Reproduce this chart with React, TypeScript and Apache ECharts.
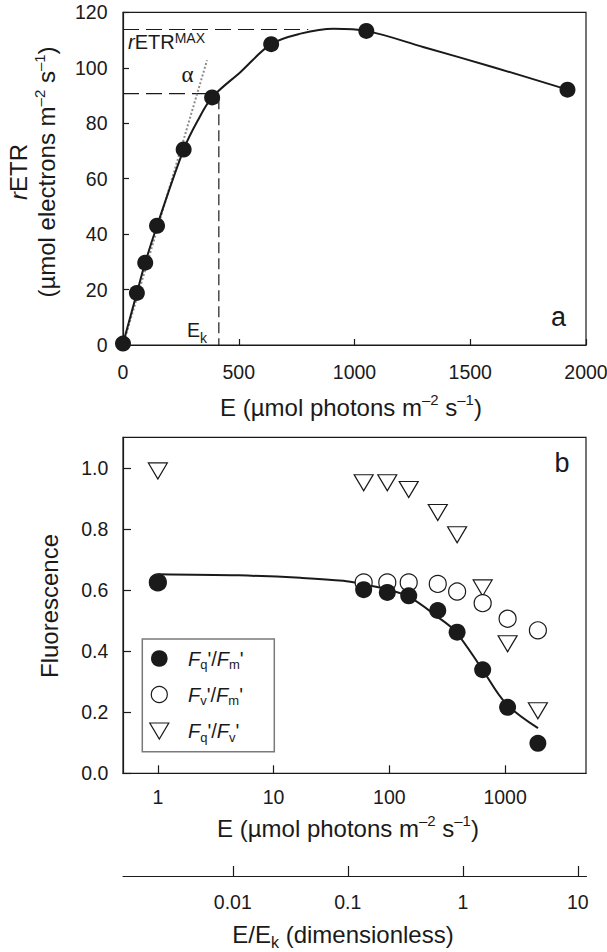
import React, { useEffect, useRef } from 'react';
import * as echarts from 'echarts';

// ---------- Panel a : rETR vs E ----------
const aE = [0, 60, 96, 147, 262, 385, 640, 1051, 1920];
const aETR = [0.5, 18.8, 29.7, 43.0, 70.5, 89.3, 108.5, 113.3, 92.1];
const aCurveE = [0, 60, 96, 147, 262, 320, 385, 508, 640, 767, 910, 1051, 1300, 1600, 1920];
const aCurveETR = [0.5, 18.8, 29.7, 43.0, 70.5, 80.5, 89.3, 98.5, 108.5, 112.3, 114.1, 113.3, 107.4, 100.2, 92.1];
const RETR_MAX = 113.8;
const RETR_MAX_END = 800;
const EK = 414;
const ETR_AT_EK = 90.7;
const EK_LINE_TOP = 89;
const ALPHA_START = [0, 0];
const ALPHA_END = [363, 102.7];
const aXRange = [0, 2000, 500];
const aYRange = [0, 120, 20];

// ---------- Panel b : fluorescence vs E (log) ----------
const bE = [1, 60, 96, 147, 262, 385, 640, 1051, 1920];
const fqfm = [0.625, 0.601, 0.592, 0.581, 0.533, 0.462, 0.339, 0.216, 0.098];
const fvfm = [0.625, 0.625, 0.625, 0.625, 0.62, 0.595, 0.557, 0.506, 0.468];
const fqfv = [0.99, 0.951, 0.951, 0.929, 0.854, 0.781, 0.607, 0.424, 0.205];
const bCurveE = [1, 5, 17, 40, 62, 98, 146, 259, 373, 626, 1014, 1925];
const bCurveV = [0.652, 0.648, 0.64, 0.63, 0.617, 0.601, 0.579, 0.513, 0.464, 0.344, 0.229, 0.148];
const bXRange = [0.5, 5000];
const bXTicks = [1, 10, 100, 1000];
const bYRange = [0, 1.1, 0.2];
const eekRange = [0.00111, 11.9];
const eekTicks = [0.01, 0.1, 1, 10];

const FONT = "'Liberation Sans', Arial, Helvetica, sans-serif";
const SERIF = "'Liberation Serif', 'DejaVu Serif', serif";
const INK = '#1a1a1a';

const zip = (xs: number[], ys: number[]) => xs.map((x, i) => [x, ys[i]]);

function richSet(base: number, supPad: number, subPad: number) {
  const small = Math.round(base * 0.64);
  return {
    n: { fontSize: base, fontFamily: FONT, fill: INK, color: INK },
    i: { fontSize: base, fontFamily: FONT, fontStyle: 'italic', fill: INK, color: INK },
    sup: { fontSize: small, fontFamily: FONT, fill: INK, color: INK, padding: [0, 0, supPad, 0] },
    sub: { fontSize: small, fontFamily: FONT, fill: INK, color: INK, padding: [subPad, 0, 0, 0] },
  };
}

function txt(x: number, y: number, text: string, rich: any, opts: any = {}) {
  return {
    type: 'text',
    x,
    y,
    rotation: opts.rotation || 0,
    silent: true,
    z: 100,
    style: {
      text,
      rich,
      fill: INK,
      textAlign: opts.align || 'center',
      verticalAlign: 'middle',
      textVerticalAlign: 'middle',
    },
  };
}

const axisLineStyle = { color: INK, width: 1.2 };
const tickLabel = (margin: number) => ({
  margin,
  fontSize: 19.5,
  color: INK,
  fontFamily: FONT,
});

export default function App() {
  const ref = useRef<HTMLDivElement>(null);
  useEffect(() => {
    const chart = echarts.init(ref.current!, null, { renderer: 'svg' });
    const titleRich = richSet(24, 15, 13);
    const legRich = richSet(20, 10, 12);
    const ekRich = {
      n: { fontSize: 19.5, fontFamily: FONT, fill: INK },
      sub: { fontSize: 14, fontFamily: FONT, fill: INK, padding: [15, 0, 0, 0] },
    };
    const eekRich = {
      n: { fontSize: 24, fontFamily: FONT, fill: INK },
      sub: { fontSize: 16, fontFamily: FONT, fill: INK, padding: [17, 0, 0, 0] },
    };
    const rmaxRich = {
      i: { fontSize: 20, fontFamily: FONT, fontStyle: 'italic', fill: INK },
      n: { fontSize: 20, fontFamily: FONT, fill: INK },
      sup: { fontSize: 14, fontFamily: FONT, fill: INK, padding: [0, 0, 8, 0] },
    };
    const rowY = [658.5, 694.5, 731];
    const legX = 159.3;
    const fmtLog = (v: number) => String(+Number(v).toPrecision(6));
    const fmtPlain = (v: number) => String(v);

    const option: any = {
      animation: false,
      backgroundColor: '#fff',
      grid: [
        { left: 123, top: 12.3, width: 463, height: 332.7, show: true, borderColor: INK, borderWidth: 1.2, backgroundColor: 'transparent', containLabel: false, outerBoundsMode: 'none' },
        { left: 123, top: 437.3, width: 463, height: 336, show: true, borderColor: INK, borderWidth: 1.2, backgroundColor: 'transparent', containLabel: false, outerBoundsMode: 'none' },
        { left: 123, top: 875, width: 463.5, height: 1, show: false, containLabel: false, outerBoundsMode: 'none' },
      ],
      xAxis: [
        {
          type: 'value', gridIndex: 0, min: aXRange[0], max: aXRange[1], interval: aXRange[2],
          axisLine: { show: true, lineStyle: axisLineStyle },
          axisTick: { show: true, inside: true, length: 6, lineStyle: axisLineStyle },
          axisLabel: { ...tickLabel(16.5), formatter: fmtPlain },
          splitLine: { show: false },
        },
        {
          type: 'log', logBase: 10, gridIndex: 1, min: bXRange[0], max: bXRange[1],
          axisLine: { show: true, lineStyle: axisLineStyle },
          axisTick: { show: true, inside: true, length: 8, lineStyle: axisLineStyle, customValues: bXTicks },
          axisLabel: { ...tickLabel(13.6), customValues: bXTicks, formatter: fmtLog },
          splitLine: { show: false },
          minorTick: { show: false },
        },
        {
          type: 'log', logBase: 10, gridIndex: 2, min: eekRange[0], max: eekRange[1], position: 'bottom',
          axisLine: { show: true, lineStyle: axisLineStyle },
          axisTick: { show: true, inside: true, length: 10, lineStyle: axisLineStyle, customValues: eekTicks },
          axisLabel: { ...tickLabel(15.5), customValues: eekTicks, formatter: fmtLog },
          splitLine: { show: false },
          minorTick: { show: false },
        },
      ],
      yAxis: [
        {
          type: 'value', gridIndex: 0, min: aYRange[0], max: aYRange[1], interval: aYRange[2],
          axisLine: { show: true, lineStyle: axisLineStyle },
          axisTick: { show: true, inside: true, length: 6, lineStyle: axisLineStyle },
          axisLabel: { ...tickLabel(15.5), formatter: fmtPlain },
          splitLine: { show: false },
        },
        {
          type: 'value', gridIndex: 1, min: bYRange[0], max: bYRange[1], interval: bYRange[2],
          axisLine: { show: true, lineStyle: axisLineStyle },
          axisTick: { show: true, inside: true, length: 8, lineStyle: axisLineStyle },
          axisLabel: { ...tickLabel(14.7), showMaxLabel: false, formatter: (v: number) => (v > 1.05 ? '' : v.toFixed(1)) },
          splitLine: { show: false },
        },
        { type: 'value', gridIndex: 2, show: false, min: 0, max: 1 },
      ],
      series: [
        // panel a reference lines
        {
          type: 'line', xAxisIndex: 0, yAxisIndex: 0, symbol: 'none', silent: true, z: 2,
          data: [[0, RETR_MAX], [RETR_MAX_END, RETR_MAX]],
          lineStyle: { color: INK, width: 1.2, type: [16, 7] },
        },
        {
          type: 'line', xAxisIndex: 0, yAxisIndex: 0, symbol: 'none', silent: true, z: 2,
          data: [[0, ETR_AT_EK], [EK, ETR_AT_EK]],
          lineStyle: { color: INK, width: 1.2, type: [16, 7] },
        },
        {
          type: 'line', xAxisIndex: 0, yAxisIndex: 0, symbol: 'none', silent: true, z: 2,
          data: [[EK, EK_LINE_TOP], [EK, 0]],
          lineStyle: { color: INK, width: 1.2, type: [11, 5] },
        },
        {
          type: 'line', xAxisIndex: 0, yAxisIndex: 0, symbol: 'none', silent: true, z: 2,
          data: [ALPHA_START, ALPHA_END],
          lineStyle: { color: '#8c8c8c', width: 2, type: [2, 2] },
        },
        {
          type: 'line', xAxisIndex: 0, yAxisIndex: 0, symbol: 'none', silent: true, z: 3, smooth: 0.35,
          data: zip(aCurveE, aCurveETR),
          lineStyle: { color: INK, width: 2 },
        },
        {
          type: 'scatter', xAxisIndex: 0, yAxisIndex: 0, silent: true, z: 4, symbol: 'circle', symbolSize: 16,
          data: zip(aE, aETR),
          itemStyle: { color: INK, opacity: 1 },
        },
        // panel b
        {
          type: 'line', xAxisIndex: 1, yAxisIndex: 1, symbol: 'none', silent: true, z: 3, smooth: 0.35,
          data: zip(bCurveE, bCurveV),
          lineStyle: { color: INK, width: 2 },
        },
        {
          type: 'scatter', xAxisIndex: 1, yAxisIndex: 1, silent: true, z: 4, symbol: 'triangle', symbolRotate: 180, symbolSize: [19, 16],
          data: zip(bE, fqfv),
          itemStyle: { color: '#fff', borderColor: INK, borderWidth: 1.2, opacity: 1 },
        },
        {
          type: 'scatter', xAxisIndex: 1, yAxisIndex: 1, silent: true, z: 4, symbol: 'circle', symbolSize: 17,
          data: zip(bE, fvfm),
          itemStyle: { color: '#fff', borderColor: INK, borderWidth: 1.2, opacity: 1 },
        },
        {
          type: 'scatter', xAxisIndex: 1, yAxisIndex: 1, silent: true, z: 5, symbol: 'circle', symbolSize: 17,
          data: zip(bE, fqfm),
          itemStyle: { color: INK, opacity: 1 },
        },
      ],
      graphic: [
        // panel a texts
        txt(18, 172, '{i|r}{n|ETR}', titleRich, { rotation: Math.PI / 2 }),
        txt(46.5, 172, '{n|(µmol electrons m}{sup|–2}{n| s}{sup|–1}{n|)}', titleRich, { rotation: Math.PI / 2 }),
        txt(128, 42, '{i|r}{n|ETR}{sup|MAX}', rmaxRich, { align: 'left' }),
        {
          type: 'text', x: 187.5, y: 74, silent: true, z: 100,
          style: { text: 'α', fontSize: 23, fontFamily: SERIF, fill: INK, textAlign: 'center', verticalAlign: 'middle', textVerticalAlign: 'middle' },
        },
        txt(187, 330, '{n|E}{sub|k}', ekRich, { align: 'left' }),
        {
          type: 'text', x: 558.5, y: 317, silent: true, z: 100,
          style: { text: 'a', fontSize: 27, fontFamily: FONT, fill: INK, textAlign: 'center', verticalAlign: 'middle', textVerticalAlign: 'middle' },
        },
        txt(351, 407, '{n|E (µmol photons m}{sup|–2}{n| s}{sup|–1}{n|)}', titleRich),
        // panel b texts
        txt(49, 606, '{n|Fluorescence}', titleRich, { rotation: Math.PI / 2 }),
        {
          type: 'text', x: 562, y: 462.5, silent: true, z: 100,
          style: { text: 'b', fontSize: 27, fontFamily: FONT, fill: INK, textAlign: 'center', verticalAlign: 'middle', textVerticalAlign: 'middle' },
        },
        txt(348, 828, '{n|E (µmol photons m}{sup|–2}{n| s}{sup|–1}{n|)}', titleRich),
        txt(343, 934, '{n|E/E}{sub|k}{n| (dimensionless)}', eekRich),
        // legend
        {
          type: 'rect', silent: true, z: 90,
          shape: { x: 142.3, y: 639, width: 132, height: 112.7 },
          style: { fill: '#fff', stroke: '#7a7a7a', lineWidth: 1.5 },
        },
        {
          type: 'circle', silent: true, z: 95,
          shape: { cx: legX, cy: rowY[0], r: 8.3 },
          style: { fill: INK },
        },
        {
          type: 'circle', silent: true, z: 95,
          shape: { cx: legX, cy: rowY[1], r: 8 },
          style: { fill: '#fff', stroke: INK, lineWidth: 1.2 },
        },
        {
          type: 'polygon', silent: true, z: 95,
          shape: { points: [[legX - 9.5, rowY[2] - 8], [legX + 9.5, rowY[2] - 8], [legX, rowY[2] + 8]] },
          style: { fill: '#fff', stroke: INK, lineWidth: 1.2 },
        },
        txt(188, rowY[0], "{i|F}{sub|q}{n|'/}{i|F}{sub|m}{n|'}", legRich, { align: 'left' }),
        txt(188, rowY[1], "{i|F}{sub|v}{n|'/}{i|F}{sub|m}{n|'}", legRich, { align: 'left' }),
        txt(188, rowY[2], "{i|F}{sub|q}{n|'/}{i|F}{sub|v}{n|'}", legRich, { align: 'left' }),
      ],
    };
    chart.setOption(option);
    return () => chart.dispose();
  }, []);
  return (
    <div
      ref={ref}
      style={{ position: 'fixed', left: 0, top: 0, width: 607, height: 952, background: '#fff' }}
    />
  );
}
